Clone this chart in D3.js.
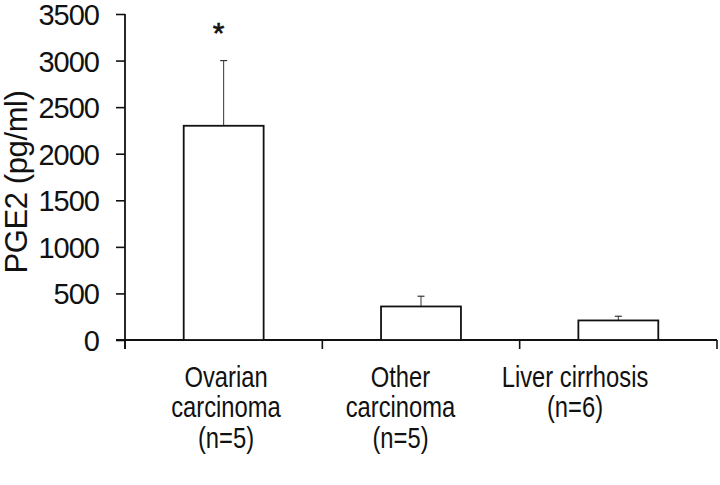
<!DOCTYPE html>
<html><head><meta charset="utf-8">
<script src="https://cdn.jsdelivr.net/npm/d3@7"></script>
<style>body{margin:0;background:#fff}svg{display:block}text{font-family:"Liberation Sans",Arial,sans-serif;fill:#111}</style>
</head><body>
<svg id="c" width="720" height="485"></svg>
<script>
const categories = ["Ovarian carcinoma", "Other carcinoma", "Liver cirrhosis"];
const labelLines = [["Ovarian", "carcinoma", "(n=5)"], ["Other", "carcinoma", "(n=5)"], ["Liver cirrhosis", "(n=6)"]];
const means = [2300, 360, 210];
const errors = [3000, 470, 255];
const significant = [true, false, false];
const yTicks = [0, 500, 1000, 1500, 2000, 2500, 3000, 3500];
const yTitle = "PGE2 (pg/ml)";

const svg = d3.select("#c");
const x = d3.scaleBand().domain(categories).range([125, 717]).padding(0);
const y = d3.scaleLinear().domain([0, 3500]).range([340, 14]);
const labelX = d3.scalePoint().domain(categories).range([226, 575]);
const barW = x.bandwidth() * 0.405;
const cx = c => x(c) + x.bandwidth() / 2;

// y axis
const ya = svg.append("g").attr("transform", "translate(125,0)")
  .call(d3.axisLeft(y).tickValues(yTicks).tickSize(9).tickPadding(17).tickFormat(d3.format("d")));
ya.select(".domain").remove();
ya.selectAll(".tick line").attr("stroke", "#111").attr("stroke-width", 1.6);
ya.selectAll(".tick text").attr("font-size", 29).attr("letter-spacing", -1)
  .attr("dy", "0.36em")
  .style("font-family", '"Liberation Sans",Arial,sans-serif').attr("fill", "#111");
svg.append("line").attr("x1", 125).attr("x2", 125).attr("y1", y(3500)).attr("y2", y(0) + 9)
  .attr("stroke", "#111").attr("stroke-width", 1.8);

// x axis
svg.append("line").attr("x1", 116).attr("x2", x.range()[1]).attr("y1", y(0)).attr("y2", y(0))
  .attr("stroke", "#111").attr("stroke-width", 1.8);
const edges = categories.map(c => x(c)).concat([x.range()[1]]);
svg.selectAll(".xt").data(edges).enter().append("line")
  .attr("x1", d => d).attr("x2", d => d).attr("y1", y(0)).attr("y2", y(0) + 9)
  .attr("stroke", "#111").attr("stroke-width", 1.6);

// error bars (upper only)
const eb = svg.selectAll(".eb").data(categories).enter().append("g");
eb.append("line").attr("x1", c => cx(c)).attr("x2", c => cx(c))
  .attr("y1", (c, i) => y(means[i])).attr("y2", (c, i) => y(errors[i]))
  .attr("stroke", "#333").attr("stroke-width", 1);
eb.append("line").attr("x1", c => cx(c) - 3.5).attr("x2", c => cx(c) + 3.5)
  .attr("y1", (c, i) => y(errors[i])).attr("y2", (c, i) => y(errors[i]))
  .attr("stroke", "#333").attr("stroke-width", 1.2);

// bars
svg.selectAll(".bar").data(categories).enter().append("rect")
  .attr("x", c => cx(c) - barW / 2).attr("width", barW)
  .attr("y", (c, i) => y(means[i])).attr("height", (c, i) => y(0) - y(means[i]))
  .attr("fill", "#fff").attr("stroke", "#111").attr("stroke-width", 1.8);

// significance star
svg.selectAll(".star").data(categories.filter((c, i) => significant[i])).enter().append("text")
  .attr("x", c => cx(c) - 5).attr("y", c => y(errors[categories.indexOf(c)]) - 18)
  .attr("text-anchor", "middle").attr("font-size", 30).attr("stroke", "#111").attr("stroke-width", 0.6).text("*");

// category labels (condensed face)
const lg = svg.selectAll(".lab").data(categories).enter().append("g")
  .attr("transform", c => `translate(${labelX(c)},0) scale(0.82,1)`)
  .append("text").attr("text-anchor", "middle").attr("font-size", 29);
lg.selectAll("tspan").data((c, i) => labelLines[i]).enter().append("tspan")
  .attr("x", 0).attr("y", (d, j) => 387 + j * 30.5).text(d => d);

// y title
svg.append("text").attr("transform", `translate(27,${(y(0) + y(3500)) / 2 + 5}) rotate(-90)`)
  .attr("text-anchor", "middle").attr("font-size", 31).attr("letter-spacing", -0.4).text(yTitle);
</script>
</body></html>
